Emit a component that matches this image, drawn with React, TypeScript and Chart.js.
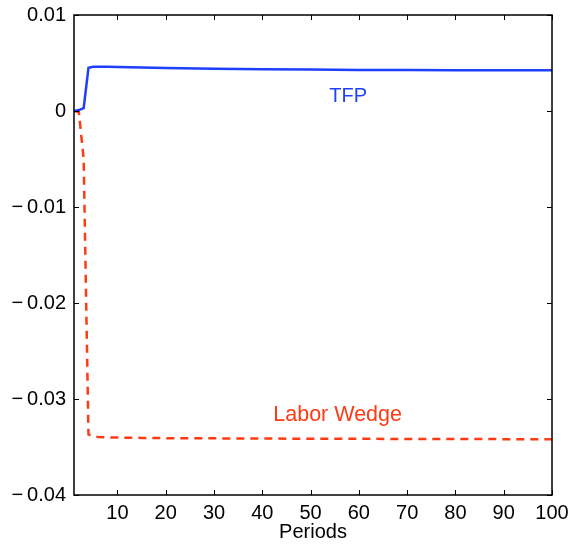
import React, { useEffect, useRef } from "react";
import { Chart, registerables } from "chart.js";

Chart.register(...registerables);

// Impulse responses over 100 periods (sparse points, straight segments between)
const periods = [1, 2, 3, 4, 5, 6, 8, 10, 15, 20, 30, 40, 50, 60, 70, 80, 90, 100];
const tfpResponse = [
  0, 0.0001, 0.0003, 0.0045, 0.0046, 0.00461, 0.0046, 0.00458, 0.00452, 0.00447,
  0.0044, 0.00435, 0.00431, 0.00428, 0.00426, 0.00425, 0.00424, 0.00424,
];
const laborWedgeResponse = [
  0, -0.0001, -0.005, -0.0337, -0.0339, -0.03395, -0.034, -0.03402, -0.03405, -0.03408,
  -0.0341, -0.03412, -0.03414, -0.03415, -0.03416, -0.03417, -0.03418, -0.03418,
];

const xTickValues = [10, 20, 30, 40, 50, 60, 70, 80, 90, 100];
const yTickValues = [0.01, 0, -0.01, -0.02, -0.03, -0.04];

const seriesNames = ["TFP", "Labor Wedge"];
// Where the in-plot series names sit, in data coordinates
const labelPositions = [
  { x: 57.8, y: 0.00155 },
  { x: 55.6, y: -0.0317 },
];
const labelSizes = [20, 21.5];

const BLUE = "#1f3fff";
const RED = "#ff3a14";
const FONT = "'Liberation Sans', Helvetica, Arial, sans-serif";

const fmtTick = (v: number) => {
  const r = Math.round(v * 100) / 100;
  if (r === 0) return "0";
  return r < 0 ? "\u2212\u2009" + Math.abs(r).toFixed(2) : r.toFixed(2);
};

const boxAndLabels = {
  id: "boxAndLabels",
  afterDatasetsDraw(chart: any) {
    const { ctx, chartArea: a, scales } = chart;
    const xs = scales.x;
    const ys = scales.y;
    ctx.save();
    // series names
    ctx.textAlign = "center";
    ctx.textBaseline = "middle";
    const colors = [BLUE, RED];
    seriesNames.forEach((name, i) => {
      ctx.font = `${labelSizes[i]}px ${FONT}`;
      ctx.fillStyle = colors[i];
      ctx.fillText(name, xs.getPixelForValue(labelPositions[i].x), ys.getPixelForValue(labelPositions[i].y));
    });
    // frame
    ctx.strokeStyle = "#000";
    ctx.lineWidth = 1.5;
    ctx.strokeRect(a.left, a.top, a.right - a.left, a.bottom - a.top);
    // inward tick marks on all four sides
    const len = 5;
    ctx.lineWidth = 1;
    ctx.beginPath();
    xTickValues.forEach((v) => {
      const px = Math.round(xs.getPixelForValue(v)) + 0.5;
      ctx.moveTo(px, a.bottom);
      ctx.lineTo(px, a.bottom - len);
      ctx.moveTo(px, a.top);
      ctx.lineTo(px, a.top + len);
    });
    yTickValues.forEach((v) => {
      const py = Math.round(ys.getPixelForValue(v)) + 0.5;
      ctx.moveTo(a.left, py);
      ctx.lineTo(a.left + len, py);
      ctx.moveTo(a.right, py);
      ctx.lineTo(a.right - len, py);
    });
    ctx.stroke();
    ctx.restore();
  },
};

export default function App() {
  const ref = useRef<HTMLCanvasElement>(null);

  useEffect(() => {
    document.body.style.margin = "0";
    const canvas = ref.current;
    if (!canvas) return;
    const chart = new Chart(canvas, {
      type: "line",
      data: {
        datasets: [
          {
            label: seriesNames[0],
            data: periods.map((p, i) => ({ x: p, y: tfpResponse[i] })),
            borderColor: BLUE,
            borderWidth: 2.5,
            pointRadius: 0,
            tension: 0,
          },
          {
            label: seriesNames[1],
            data: periods.map((p, i) => ({ x: p, y: laborWedgeResponse[i] })),
            borderColor: RED,
            borderWidth: 2.5,
            borderDash: [8, 6],
            pointRadius: 0,
            tension: 0,
          },
        ],
      },
      options: {
        responsive: false,
        animation: false,
        layout: { padding: { top: 15, right: 28, left: 0, bottom: 0 } },
        plugins: {
          legend: { display: false },
          tooltip: { enabled: false },
        },
        scales: {
          x: {
            type: "linear",
            min: 1,
            max: 100,
            grid: { display: false, drawTicks: false },
            border: { display: false },
            afterBuildTicks: (s: any) => {
              s.ticks = xTickValues.map((v) => ({ value: v }));
            },
            afterFit: (s: any) => {
              s.height = 53;
              s.paddingLeft = 0;
              s.paddingRight = 0;
            },
            ticks: {
              color: "#000",
              font: { family: FONT, size: 20 },
              padding: 6,
              maxRotation: 0,
              autoSkip: false,
            },
            title: {
              display: true,
              text: "Periods",
              color: "#000",
              font: { family: FONT, size: 20 },
              padding: { top: 0, bottom: 4 },
            },
          },
          y: {
            min: -0.04,
            max: 0.01,
            grid: { display: false, drawTicks: false },
            border: { display: false },
            afterBuildTicks: (s: any) => {
              s.ticks = yTickValues.map((v) => ({ value: v }));
            },
            afterFit: (s: any) => {
              s.width = 74;
              s.paddingTop = 0;
              s.paddingBottom = 0;
            },
            ticks: {
              color: "#000",
              font: { family: FONT, size: 20 },
              padding: 8,
              callback: (v: any) => fmtTick(Number(v)),
            },
          },
        },
      },
      plugins: [boxAndLabels],
    });
    return () => chart.destroy();
  }, []);

  return (
    <div style={{ width: 580, height: 548 }}>
      <canvas ref={ref} width={580} height={548} />
    </div>
  );
}
